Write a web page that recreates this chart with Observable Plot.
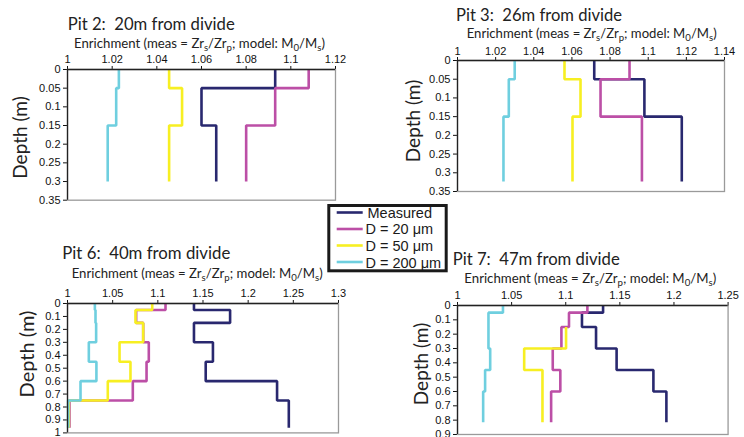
<!DOCTYPE html>
<html><head><meta charset="utf-8">
<script src="https://cdn.jsdelivr.net/npm/d3@7"></script>
<script src="https://cdn.jsdelivr.net/npm/@observablehq/plot@0.6"></script>
<style>
html,body{margin:0;padding:0;background:#fff;}
#wrap{position:relative;width:744px;height:437px;overflow:hidden;background:#fff;}
#wrap svg{position:absolute;}
</style></head><body><div id="wrap"></div>
<script>
// ---------- data ----------
const seriesNames = ["Measured", "D = 20 \u03bcm", "D = 50 \u03bcm", "D = 200 \u03bcm"];
const seriesColors = ["#29286f", "#bc4fa6", "#f7ef22", "#6fcfdf"];

// Pit 2: 20 m from divide
const pit2Depth    = [0, 0.05, 0.15, 0.30];
const pit2Measured = [1.093, 1.060, 1.0666];
const pit2D20      = [1.108, 1.093, 1.080];
const pit2D50      = [1.0455, 1.0513, 1.0455];
const pit2D200     = [1.023, 1.0218, 1.018];
const pit2XTicks   = [1, 1.02, 1.04, 1.06, 1.08, 1.1, 1.12];
const pit2YTicks   = [0, 0.05, 0.1, 0.15, 0.2, 0.25, 0.3, 0.35];

// Pit 3: 26 m from divide
const pit3Depth    = [0, 0.05, 0.15, 0.323];
const pit3Measured = [1.0717, 1.098, 1.1176];
const pit3D20      = [1.0902, 1.075, 1.0967];
const pit3D50      = [1.0561, 1.0645, 1.0603];
const pit3D200     = [1.030, 1.0269, 1.0241];
const pit3XTicks   = [1, 1.02, 1.04, 1.06, 1.08, 1.1, 1.12, 1.14];
const pit3YTicks   = [0, 0.05, 0.1, 0.15, 0.2, 0.25, 0.3, 0.35];

// Pit 6: 40 m from divide
const pit6Depth    = [0, 0.05, 0.15, 0.30, 0.45, 0.60, 0.75, 0.96];
const pit6Measured = [1.140, 1.180, 1.140, 1.161, 1.153, 1.232, 1.245];
const pit6D20      = [1.1085, 1.076, 1.0838, 1.090, 1.0875, 1.0723, 1.0022];
const pit6D50      = [1.0938, 1.0753, 1.0838, 1.0576, 1.0697, 1.0446, 1.0015];
const pit6D200     = [1.0303, 1.031, 1.0317, 1.0236, 1.032, 1.0144, 1.0007];
const pit6XTicks   = [1, 1.05, 1.1, 1.15, 1.2, 1.25, 1.3];
const pit6YTicks   = [0, 0.1, 0.2, 0.3, 0.4, 0.5, 0.6, 0.7, 0.8, 0.9, 1];

// Pit 7: 47 m from divide
const pit7Depth    = [0, 0.05, 0.15, 0.30, 0.45, 0.60, 0.815];
const pit7Measured = [1.1345, 1.1150, 1.128, 1.147, 1.181, 1.193];
const pit7D20      = [1.120, 1.103, 1.096, 1.088, 1.095, 1.0865];
const pit7D50      = [null, null, 1.1003, 1.0616, 1.0785, 1.0785];
const pit7D200     = [1.042, 1.0286, 1.0286, 1.0302, 1.0255, 1.0237];
const pit7XTicks   = [1, 1.05, 1.1, 1.15, 1.2, 1.25];
const pit7YTicks   = [0, 0.1, 0.2, 0.3, 0.4, 0.5, 0.6, 0.7, 0.8, 0.9];

// ---------- helpers ----------
const wrap = document.getElementById("wrap");
const fmt = d3.format("~g");

function steps(depths, values) {
  const pts = [];
  values.forEach((v, i) => {
    if (v == null) return;
    pts.push({d: depths[i], v});
    pts.push({d: depths[i + 1], v});
  });
  return pts;
}

function panel(o) {
  const mL = 45, mT = 22, mR = 12, mB = 6;
  const lines = o.series.map((vals, i) =>
    Plot.line(steps(o.depth, vals), {
      x: "v", y: "d", stroke: seriesColors[i], strokeWidth: 2.6,
      strokeLinejoin: "miter", strokeLinecap: "butt"
    }));
  const chart = Plot.plot({
    width: (o.x1 - o.x0) + mL + mR,
    height: (o.y1 - o.y0) + mT + mB,
    marginLeft: mL, marginTop: mT, marginRight: mR, marginBottom: mB,
    style: {fontFamily: "'Liberation Sans', Arial, sans-serif", fontSize: "11px", color: "#111", background: "transparent", overflow: "visible"},
    x: {domain: o.xDomain, axis: "top", ticks: o.xTicks, tickFormat: fmt, tickSize: 4, tickPadding: 2, label: null},
    y: {domain: o.yDomain, reverse: true, ticks: o.yTicks, tickFormat: fmt, tickSize: 4, tickPadding: 3, label: null},
    marks: [
      Plot.frame({stroke: "#9a9a9a", strokeWidth: 1.3}),
      ...lines,
      Plot.ruleY([o.yDomain[0]], {stroke: "#222", strokeWidth: 1.3}),
      Plot.ruleX([o.xDomain[0]], {stroke: "#222", strokeWidth: 1.3})
    ]
  });
  chart.style.left = (o.x0 - mL) + "px";
  chart.style.top = (o.y0 - mT) + "px";
  wrap.appendChild(chart);
}

panel({x0: 67, x1: 335, y0: 69.3, y1: 200, xDomain: [1, 1.12], yDomain: [0, 0.35],
  xTicks: pit2XTicks, yTicks: pit2YTicks, depth: pit2Depth,
  series: [pit2Measured, pit2D20, pit2D50, pit2D200]});
panel({x0: 457, x1: 724, y0: 60.3, y1: 191.3, xDomain: [1, 1.14], yDomain: [0, 0.35],
  xTicks: pit3XTicks, yTicks: pit3YTicks, depth: pit3Depth,
  series: [pit3Measured, pit3D20, pit3D50, pit3D200]});
panel({x0: 67, x1: 338, y0: 303.3, y1: 432.7, xDomain: [1, 1.3], yDomain: [0, 1],
  xTicks: pit6XTicks, yTicks: pit6YTicks, depth: pit6Depth,
  series: [pit6Measured, pit6D20, pit6D50, pit6D200]});
panel({x0: 456.7, x1: 727.3, y0: 305, y1: 434, xDomain: [1, 1.25], yDomain: [0, 0.9],
  xTicks: pit7XTicks, yTicks: pit7YTicks, depth: pit7Depth,
  series: [pit7Measured, pit7D20, pit7D50, pit7D200]});

// ---------- text overlay: titles, axis labels, legend ----------
const svg = d3.select(wrap).append("svg")
  .attr("width", 744).attr("height", 437)
  .style("left", "0px").style("top", "0px")
  .attr("font-family", "Lato, 'Noto Sans', sans-serif");

const titles = [
  {t: "Pit 2:\u00a0 20m from divide", x: 67.7, y: 30, w: 167},
  {t: "Pit 3:\u00a0 26m from divide", x: 456, y: 20.7, w: 166},
  {t: "Pit 6:\u00a0 40m from divide", x: 62.3, y: 259.3, w: 168},
  {t: "Pit 7:\u00a0 47m from divide", x: 452.7, y: 265, w: 167}
];
titles.forEach(d => {
  svg.append("text").attr("x", d.x).attr("y", d.y)
    .attr("font-size", 16.5).attr("fill", "#222")
    .attr("textLength", d.w).attr("lengthAdjust", "spacingAndGlyphs")
    .text(d.t);
});

const xlabels = [
  {x: 74, y: 47.7, w: 251},
  {x: 466.7, y: 37.7, w: 250},
  {x: 71.7, y: 278.3, w: 251},
  {x: 464.3, y: 282.7, w: 252}
];
xlabels.forEach(d => {
  const t = svg.append("text").attr("x", d.x).attr("y", d.y)
    .attr("font-size", 13).attr("fill", "#222")
    .attr("textLength", d.w).attr("lengthAdjust", "spacingAndGlyphs");
  const parts = [["Enrichment (meas = Zr"], ["s", 1], ["/Zr"], ["p", 1], ["; model: M"], ["0", 1], ["/M"], ["s", 1], [")"]];
  let sub = false;
  parts.forEach(([s, isSub]) => {
    const ts = t.append("tspan").text(s);
    if (isSub && !sub) { ts.attr("dy", 3).attr("font-size", 9.5); sub = true; }
    else if (isSub) { ts.attr("font-size", 9.5); }
    else if (sub) { ts.attr("dy", -3); sub = false; }
  });
});

const ylabels = [
  {x: 19.5, y: 137.5, s: 19},
  {x: 412.5, y: 121, s: 19},
  {x: 25.5, y: 354, s: 20},
  {x: 420.5, y: 364, s: 19}
];
ylabels.forEach(d => {
  svg.append("text")
    .attr("transform", `translate(${d.x},${d.y}) rotate(-90)`)
    .attr("text-anchor", "middle").attr("dominant-baseline", "central")
    .attr("font-size", d.s).attr("fill", "#222")
    .text("Depth (m)");
});

// legend
const lg = svg.append("g").attr("font-family", "'Liberation Sans', Arial, sans-serif");
lg.append("rect").attr("x", 328.8).attr("y", 205.5).attr("width", 117.4).attr("height", 65.3)
  .attr("fill", "#fff").attr("stroke", "#1a1a1a").attr("stroke-width", 3);
const lineY = [212.5, 229, 245.5, 262];
const textY = [217.5, 234, 250.8, 268];
seriesNames.forEach((name, i) => {
  lg.append("line").attr("x1", 336.7).attr("x2", 362.7).attr("y1", lineY[i]).attr("y2", lineY[i])
    .attr("stroke", seriesColors[i]).attr("stroke-width", 2.6);
  lg.append("text").attr("x", i === 0 ? 367.5 : 365.5).attr("y", textY[i])
    .attr("font-size", 14.5).attr("fill", "#1a1a1a").text(name);
});
</script>
</body></html>
